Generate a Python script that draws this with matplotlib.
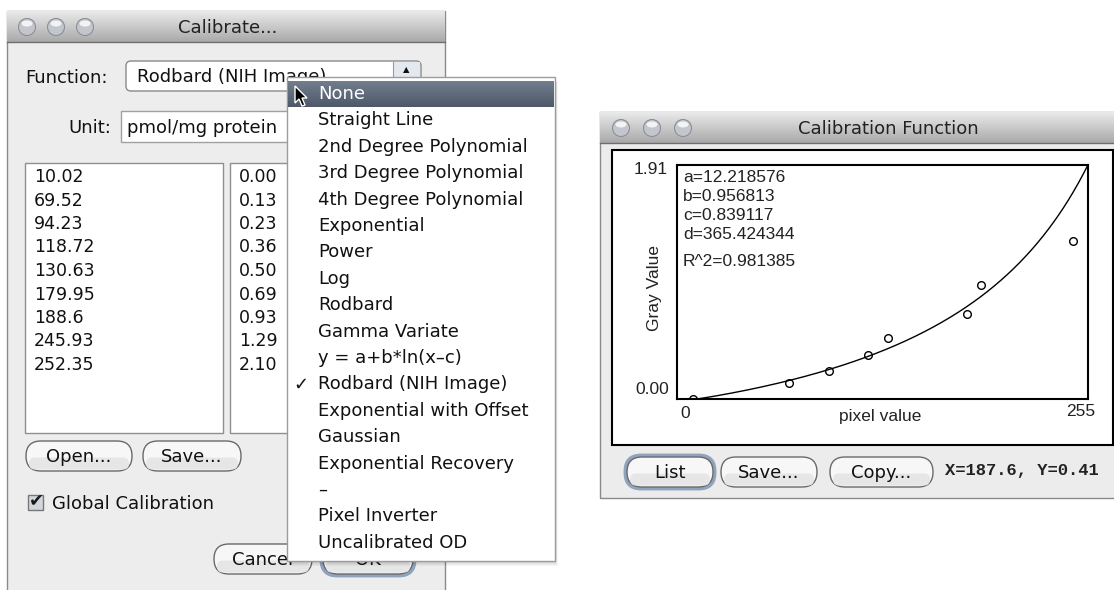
import numpy as np
import matplotlib.pyplot as plt
from matplotlib.patches import Rectangle, FancyBboxPatch, Circle, Ellipse, Polygon
from matplotlib.colors import to_rgb

# --- values shown in the screenshot ---
pixel_values = [10.02, 69.52, 94.23, 118.72, 130.63, 179.95, 188.6, 245.93, 252.35]
gray_values = [0.00, 0.13, 0.23, 0.36, 0.50, 0.69, 0.93, 1.29, 2.10]
fit_names = ["a", "b", "c", "d"]
fit_values = [12.218576, 0.956813, 0.839117, 365.424344]
r_squared = 0.981385
x_limits = [0, 255]
y_limits = [0.00, 1.91]
cursor_readout = [187.6, 0.41]
unit_name = "pmol/mg protein"
function_names = ["None", "Straight Line", "2nd Degree Polynomial", "3rd Degree Polynomial",
                  "4th Degree Polynomial", "Exponential", "Power", "Log", "Rodbard",
                  "Gamma Variate", "y = a+b*ln(x\u2013c)", "Rodbard (NIH Image)",
                  "Exponential with Offset", "Gaussian", "Exponential Recovery", "\u2013",
                  "Pixel Inverter", "Uncalibrated OD"]
selected_function = "Rodbard (NIH Image)"

UI = "DejaVu Sans"
PLOT = "Liberation Sans"
W, H = 1114, 590

fig = plt.figure(figsize=(W / 100, H / 100), dpi=100)
ax = fig.add_axes([0, 0, 1, 1])
ax.set_xlim(0, W)
ax.set_ylim(H, 0)
ax.axis("off")


def box(x0, y0, x1, y1, fc, ec="none", lw=1, z=1, **kw):
    ax.add_patch(Rectangle((x0, y0), x1 - x0, y1 - y0, fc=fc, ec=ec, lw=lw, zorder=z, **kw))


def shade(x0, y0, x1, y1, top, bottom, z=2):
    c0, c1 = np.array(to_rgb(top)), np.array(to_rgb(bottom))
    n = int(round(y1 - y0))
    for i in range(n):
        t = i / max(n - 1, 1)
        box(x0, y0 + i, x1, y0 + i + 1.1, fc=c0 + (c1 - c0) * t, z=z)


def label(x, y, s, size=13, ha="left", z=5, color="#111111", family=UI, **kw):
    ax.text(x, y, s, fontsize=size, ha=ha, va="center", color=color,
            family=family, zorder=z, **kw)


def pill(x0, y0, x1, y1, s, z=3, default=False):
    h = y1 - y0
    style = f"round,pad=0,rounding_size={h / 2}"
    if default:
        ax.add_patch(FancyBboxPatch((x0 - 1, y0 - 1), x1 - x0 + 2, h + 2, boxstyle=style,
                                    fc="none", ec="#8fa3bf", lw=3.5, zorder=z))
    ax.add_patch(FancyBboxPatch((x0, y0), x1 - x0, h, boxstyle=style,
                                fc="#f7f7f7", ec="#6a6a6a", lw=1, zorder=z))
    ax.add_patch(FancyBboxPatch((x0 + 3, y0 + h * 0.55), x1 - x0 - 6, h * 0.4,
                                boxstyle=f"round,pad=0,rounding_size={h * 0.2}",
                                fc="#e6e6e6", ec="none", zorder=z))
    label((x0 + x1) / 2, (y0 + y1) / 2 + 1, s, ha="center", z=z + 1)


def lights(xs, y, z=4):
    for x in xs:
        ax.add_patch(Circle((x, y), 8.5, fc="#c3c7cd", ec="#8b8f96", lw=0.8, zorder=z))
        ax.add_patch(Ellipse((x, y - 3.5), 11, 6, fc="white", ec="none", alpha=0.8, zorder=z + 0.1))


# ---------------- Calibrate... dialog ----------------
box(7, 11, 445, 620, fc="#ededed", ec="#8a8a8a", z=1)
shade(7, 11, 445, 42, "#e9e9e9", "#a9a9a9")
ax.plot([7, 445], [42, 42], color="#6e6e6e", lw=1, zorder=3)
lights([27, 56, 85], 27)
label(228, 28, "Calibrate...", ha="center", color="#222222")

label(25, 78, "Function:")
ax.add_patch(FancyBboxPatch((126, 61), 295, 30, boxstyle="round,pad=0,rounding_size=5",
                            fc="white", ec="#8a8a8a", lw=1, zorder=3))
box(393, 62, 420, 90, fc="#e4e9f0", z=3.1)
ax.plot([393, 393], [62, 90], color="#9a9a9a", lw=0.8, zorder=3.2)
label(406, 70, "\u25b2", size=6, ha="center", z=3.3)
label(137, 77, selected_function, z=4)

label(111, 128, "Unit:", ha="right")
box(121, 111, 470, 142, fc="white", ec="#a0a0a0", z=3)
label(127, 128, unit_name, z=4)

box(25, 163, 223, 433, fc="white", ec="#8f8f8f", z=3)
box(230, 163, 440, 433, fc="white", ec="#8f8f8f", z=3)
for i, (px, gv) in enumerate(zip(pixel_values, gray_values)):
    yy = 177 + 23.5 * i
    label(34, yy, str(px), size=12.5, z=4)
    label(239, yy, f"{gv:.2f}", size=12.5, z=4)

pill(26, 441, 132, 471, "Open...")
pill(143, 441, 241, 471, "Save...")

box(28, 495, 43, 510, fc="#d2d7de", ec="#777777", z=3)
label(36, 500, "\u2714", size=13, ha="center", z=4, color="#1a1a1a")
label(52, 504, "Global Calibration")

pill(214, 544, 312, 574, "Cancel")
pill(323, 544, 413, 574, "OK", default=True)

# ---------------- function popup menu ----------------
for k in range(1, 6):
    box(287 + k * 0.6, 77 + k, 555 + k * 0.6, 561 + k, fc="black", alpha=0.035, z=9)
box(287, 77, 555, 561, fc="white", ec="#9c9c9c", z=10)
shade(288, 81, 554, 107, "#717d8d", "#4d5969", z=11)
for i, name in enumerate(function_names):
    yy = 94 + 26.4 * i
    label(318, yy, name, z=12, color="white" if i == 0 else "#111111")
    if name == selected_function:
        label(301, yy, "\u2713", z=12, ha="center")

cx, cy = 295, 86
arrow = [(0, 0), (0, 17), (4, 13), (7, 20), (10, 19), (7, 12), (12, 12)]
ax.add_patch(Polygon([(cx + a, cy + b) for a, b in arrow], closed=True,
                     fc="black", ec="white", lw=1, zorder=20))

# ---------------- Calibration Function window ----------------
box(600, 112, 1120, 498, fc="#ececec", ec="#8a8a8a", z=1)
shade(600, 112, 1120, 143, "#e9e9e9", "#a9a9a9")
ax.plot([600, 1120], [143, 143], color="#6e6e6e", lw=1, zorder=3)
lights([621, 652, 683], 128)
label(888, 129, "Calibration Function", ha="center", color="#222222")

box(612, 150, 1113, 445, fc="white", ec="black", lw=1.5, z=2)

pa = fig.add_axes([677 / W, 1 - 399 / H, (1088 - 677) / W, (399 - 165) / H])
pa.set_facecolor("none")
xs = np.linspace(fit_values[0], x_limits[1], 400)
a, b, c, d = fit_values
ys = c * ((xs - a) / (d - xs)) ** (1 / b)
pa.plot(xs, ys, color="black", lw=1)
pa.plot(pixel_values, gray_values, "o", mfc="none", mec="black", ms=5.5, mew=1)
pa.set_xlim(x_limits)
pa.set_ylim(y_limits)
pa.set_xticks([])
pa.set_yticks([])
for sp in pa.spines.values():
    sp.set_linewidth(1.5)

for i, (n, v) in enumerate(zip(fit_names, fit_values)):
    label(683, 178 + 18.7 * i, f"{n}={v:.6f}", size=12.5, family=PLOT, color="#222222")
label(683, 262, f"R^2={r_squared:.6f}", size=12.5, family=PLOT, color="#222222")

label(668, 170, f"{y_limits[1]:.2f}", ha="right", size=12.5, family=PLOT, color="#222222")
label(669, 389, f"{y_limits[0]:.2f}", ha="right", size=12.5, family=PLOT, color="#222222")
label(680, 413, f"{x_limits[0]}", size=12.5, family=PLOT, color="#222222")
label(1095, 412, f"{x_limits[1]}", ha="right", size=12.5, family=PLOT, color="#222222")
label(880, 416, "pixel value", ha="center", size=12.5, family=PLOT, color="#222222")
ax.text(655, 288, "Gray Value", rotation=90, ha="center", va="center", fontsize=12.5,
        family=PLOT, color="#222222", zorder=5)

pill(627, 457, 713, 487, "List", default=True)
pill(721, 457, 817, 487, "Save...")
pill(830, 457, 933, 487, "Copy...")
label(945, 471, f"X={cursor_readout[0]}, Y={cursor_readout[1]}", size=12.3,
      family="Liberation Mono", weight="bold", color="#222222")

fig.savefig("out.png", dpi=100)
